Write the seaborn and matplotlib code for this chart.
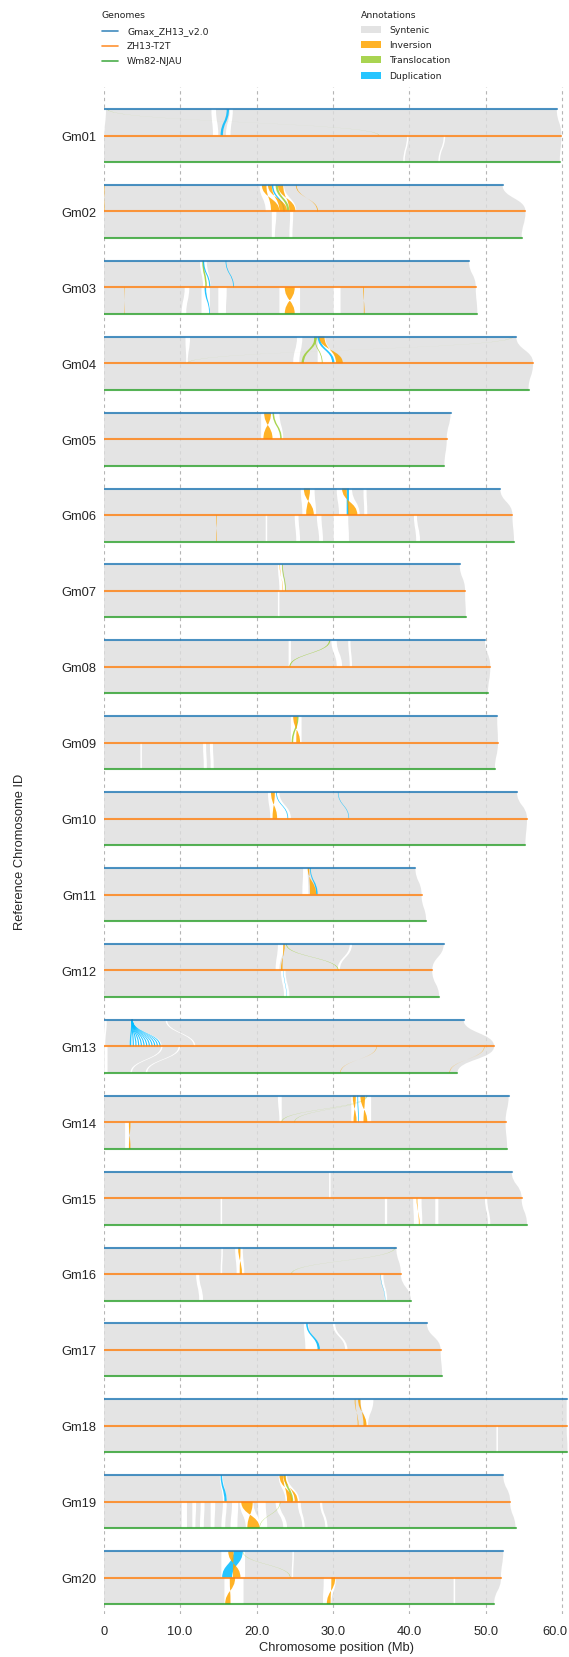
import numpy as np
import pandas as pd
import matplotlib
matplotlib.use("Agg")
import matplotlib.pyplot as plt
import matplotlib.transforms as mtransforms
import seaborn as sns
from matplotlib.path import Path
from matplotlib.patches import PathPatch, Rectangle
from matplotlib.lines import Line2D

# ---------------- data ----------------
CHROMS = ["Gm%02d" % i for i in range(1, 21)]
GENOMES = ["Gmax_ZH13_v2.0", "ZH13-T2T", "Wm82-NJAU"]
LEN_ZH13V2 = [59.3, 52.2, 47.8, 54.0, 45.4, 51.9, 46.6, 49.9, 51.5, 54.1,
              40.8, 44.5, 47.1, 53.0, 53.4, 38.3, 42.3, 60.6, 52.3, 52.3]
LEN_T2T = [59.9, 55.2, 48.7, 56.2, 44.9, 53.5, 47.3, 50.6, 51.6, 55.4,
           41.6, 43.0, 51.1, 52.6, 54.7, 38.9, 44.1, 60.6, 53.2, 52.0]
LEN_NJAU = [59.7, 54.7, 48.9, 55.6, 44.6, 53.7, 47.4, 50.3, 51.2, 55.2,
            42.2, 43.9, 46.3, 52.8, 55.4, 40.2, 44.3, 60.7, 53.9, 51.1]

ANNOT = ["Syntenic", "Inversion", "Translocation", "Duplication"]

# (chromosome, pair [0: ZH13_v2->T2T, 1: T2T->NJAU], upper start, upper end, lower start, lower end) in Mb
UNALIGNED = [
    ("Gm01", 0, 14.1, 14.7, 14.3, 15.0), ("Gm01", 0, 16.5, 16.9, 16.0, 16.6), ("Gm01", 0, 0.0, 0.3, 0.0, 0.1),
    ("Gm01", 1, 39.7, 39.9, 39.2, 39.4), ("Gm01", 1, 44.5, 44.7, 43.8, 44.0),
    ("Gm02", 0, 20.4, 23.6, 21.2, 25.2),
    ("Gm02", 1, 22.0, 22.6, 22.0, 22.4), ("Gm02", 1, 24.4, 24.8, 24.3, 24.7),
    ("Gm03", 0, 12.6, 13.5, 13.0, 14.0),
    ("Gm03", 1, 10.6, 11.2, 10.2, 10.8), ("Gm03", 1, 12.8, 13.9, 12.8, 13.9), ("Gm03", 1, 15.0, 16.1, 15.0, 16.0),
    ("Gm03", 1, 23.0, 25.7, 23.0, 25.7), ("Gm03", 1, 30.1, 31.0, 30.1, 31.0),
    ("Gm04", 0, 10.7, 11.3, 10.8, 11.0), ("Gm04", 0, 25.3, 26.0, 24.8, 25.6), ("Gm04", 0, 28.0, 29.0, 28.0, 30.5),
    ("Gm05", 0, 20.6, 23.0, 20.6, 23.5),
    ("Gm06", 0, 25.8, 27.6, 26.0, 27.8), ("Gm06", 0, 30.5, 32.5, 30.8, 33.5), ("Gm06", 0, 34.0, 34.4, 34.1, 34.5),
    ("Gm06", 1, 21.2, 21.4, 21.2, 21.4), ("Gm06", 1, 25.0, 25.5, 25.2, 25.7), ("Gm06", 1, 27.9, 28.5, 28.2, 28.7),
    ("Gm06", 1, 30.1, 32.0, 30.1, 32.1), ("Gm06", 1, 40.6, 41.0, 40.9, 41.4),
    ("Gm07", 0, 22.8, 23.3, 23.0, 23.7), ("Gm07", 1, 22.8, 23.0, 22.8, 23.0),
    ("Gm08", 0, 24.2, 24.5, 24.2, 24.5), ("Gm08", 0, 29.8, 30.5, 30.5, 31.2), ("Gm08", 0, 32.0, 32.3, 32.2, 32.5),
    ("Gm09", 0, 24.5, 25.9, 24.5, 25.9),
    ("Gm09", 1, 4.8, 5.0, 4.8, 5.0), ("Gm09", 1, 13.0, 13.4, 13.1, 13.5), ("Gm09", 1, 13.9, 14.3, 14.0, 14.4),
    ("Gm10", 0, 21.5, 23.0, 21.8, 24.5),
    ("Gm11", 0, 26.1, 26.7, 26.0, 26.8),
    ("Gm12", 0, 22.8, 23.6, 22.5, 23.0), ("Gm12", 0, 32.2, 32.5, 30.6, 30.9),
    ("Gm12", 1, 23.2, 23.8, 23.6, 24.3),
    ("Gm13", 0, 3.6, 3.8, 3.4, 7.6), ("Gm13", 0, 8.1, 8.3, 11.8, 12.0), ("Gm13", 0, 0.1, 0.4, 0.0, 0.2),
    ("Gm13", 1, 0.1, 0.5, 0.1, 0.5), ("Gm13", 1, 7.5, 7.7, 3.5, 3.7), ("Gm13", 1, 9.8, 10.0, 5.5, 5.7),
    ("Gm14", 0, 22.8, 23.3, 23.0, 23.3), ("Gm14", 0, 32.4, 35.0, 32.4, 35.0),
    ("Gm14", 1, 2.8, 3.3, 2.8, 3.3),
    ("Gm15", 0, 29.5, 29.7, 29.5, 29.7),
    ("Gm15", 1, 36.8, 37.1, 36.8, 37.1), ("Gm15", 1, 40.5, 41.6, 40.6, 41.7), ("Gm15", 1, 43.4, 43.8, 43.4, 43.8),
    ("Gm15", 1, 49.9, 50.2, 50.3, 50.6), ("Gm15", 1, 15.3, 15.5, 15.3, 15.5),
    ("Gm16", 0, 15.4, 15.6, 15.3, 15.5), ("Gm16", 0, 17.2, 18.2, 17.4, 18.4),
    ("Gm16", 1, 12.1, 12.5, 12.5, 13.0), ("Gm16", 1, 36.3, 36.6, 36.8, 37.1),
    ("Gm17", 0, 26.2, 26.8, 26.4, 28.0), ("Gm17", 0, 30.0, 30.3, 31.6, 31.9),
    ("Gm18", 0, 33.6, 35.3, 34.3, 34.6), ("Gm18", 1, 51.4, 51.6, 51.4, 51.6),
    ("Gm19", 0, 15.2, 15.6, 15.6, 16.1), ("Gm19", 0, 22.9, 24.0, 23.8, 25.6),
    ("Gm19", 1, 10.2, 10.9, 10.2, 10.9), ("Gm19", 1, 11.6, 12.1, 11.6, 12.0), ("Gm19", 1, 12.7, 13.2, 12.6, 13.1),
    ("Gm19", 1, 14.0, 14.6, 14.0, 14.5), ("Gm19", 1, 15.6, 16.1, 15.4, 15.9), ("Gm19", 1, 16.8, 17.6, 16.6, 17.5),
    ("Gm19", 1, 17.8, 19.6, 18.6, 20.5), ("Gm19", 1, 20.2, 21.2, 20.3, 21.4), ("Gm19", 1, 22.5, 23.0, 23.5, 24.0),
    ("Gm19", 1, 25.4, 25.8, 26.0, 26.3), ("Gm19", 1, 28.3, 28.6, 29.0, 29.3),
    ("Gm20", 0, 15.4, 18.5, 15.4, 18.5), ("Gm20", 0, 24.7, 24.9, 24.6, 24.8),
    ("Gm20", 1, 15.8, 18.3, 15.8, 18.3), ("Gm20", 1, 28.8, 30.4, 28.7, 29.8), ("Gm20", 1, 45.8, 46.0, 45.8, 46.0),
]

INVERSIONS = [
    ("Gm02", 0, 20.7, 21.3, 21.9, 23.0), ("Gm02", 0, 21.5, 22.0, 23.0, 24.0), ("Gm02", 0, 22.8, 23.5, 24.3, 25.1),
    ("Gm02", 0, 25.15, 25.25, 27.95, 28.05), ("Gm02", 0, 0.0, 0.1, 0.0, 0.1),
    ("Gm03", 1, 2.72, 2.78, 2.72, 2.78), ("Gm03", 1, 23.7, 25.0, 23.7, 25.0), ("Gm03", 1, 33.95, 34.05, 34.05, 34.15),
    ("Gm04", 0, 28.2, 28.9, 30.4, 31.3),
    ("Gm05", 0, 21.0, 21.9, 20.9, 22.1),
    ("Gm06", 0, 26.2, 27.0, 26.5, 27.5), ("Gm06", 0, 31.2, 31.8, 32.0, 33.2), ("Gm06", 1, 14.74, 14.82, 14.74, 14.82),
    ("Gm07", 0, 23.02, 23.08, 23.42, 23.48),
    ("Gm09", 0, 24.8, 25.3, 25.2, 25.7),
    ("Gm10", 0, 21.9, 22.4, 22.1, 22.7),
    ("Gm11", 0, 26.7, 26.9, 27.0, 27.8),
    ("Gm12", 0, 23.5, 23.7, 23.2, 23.4),
    ("Gm13", 1, 35.7, 35.75, 30.95, 31.0), ("Gm13", 1, 49.8, 49.85, 45.25, 45.3),
    ("Gm14", 0, 32.6, 33.0, 32.7, 33.1), ("Gm14", 0, 33.6, 34.2, 34.0, 34.5), ("Gm14", 1, 3.3, 3.5, 3.3, 3.5),
    ("Gm15", 1, 40.95, 41.05, 41.25, 41.35),
    ("Gm16", 0, 17.6, 17.9, 17.8, 18.1),
    ("Gm18", 0, 33.3, 33.6, 34.0, 34.4), ("Gm18", 0, 32.85, 32.95, 33.25, 33.35),
    ("Gm19", 0, 23.0, 23.5, 24.0, 24.7), ("Gm19", 0, 23.5, 23.8, 25.0, 25.4), ("Gm19", 1, 18.0, 19.5, 18.8, 20.4),
    ("Gm20", 0, 16.3, 17.0, 16.9, 17.9),
    ("Gm20", 1, 16.5, 17.2, 15.9, 16.6), ("Gm20", 1, 29.8, 30.3, 29.2, 29.7),
]

TRANSLOCATIONS = [
    ("Gm01", 0, 0.45, 0.5, 36.0, 36.05),
    ("Gm02", 0, 22.5, 22.8, 24.0, 24.3),
    ("Gm03", 0, 12.9, 13.1, 13.3, 13.5),
    ("Gm04", 0, 53.5, 53.55, 10.95, 11.0), ("Gm04", 0, 27.6, 27.9, 25.9, 26.2), ("Gm04", 0, 27.55, 27.65, 28.55, 28.65),
    ("Gm05", 0, 22.1, 22.3, 23.1, 23.3),
    ("Gm07", 0, 23.35, 23.45, 23.75, 23.85),
    ("Gm08", 0, 29.5, 29.65, 24.3, 24.45),
    ("Gm09", 0, 25.3, 25.5, 24.6, 24.8),
    ("Gm12", 0, 23.85, 23.95, 30.65, 30.75),
    ("Gm14", 0, 34.35, 34.42, 23.25, 23.32), ("Gm14", 0, 34.45, 34.5, 24.95, 25.0),
    ("Gm16", 0, 38.1, 38.15, 24.55, 24.6),
    ("Gm19", 0, 23.6, 23.8, 24.5, 24.8), ("Gm19", 1, 23.08, 23.13, 20.38, 20.43),
    ("Gm20", 0, 18.18, 18.23, 24.38, 24.43),
]

DUPLICATIONS = [
    ("Gm01", 0, 16.1, 16.4, 15.3, 15.6),
    ("Gm02", 0, 22.0, 22.2, 23.5, 23.7),
    ("Gm03", 0, 15.95, 16.05, 16.95, 17.05), ("Gm03", 0, 13.0, 13.15, 13.8, 13.95), ("Gm03", 1, 13.2, 13.4, 13.8, 13.9),
    ("Gm04", 0, 28.0, 28.3, 29.9, 30.2),
    ("Gm06", 0, 31.8, 32.1, 31.8, 32.1),
    ("Gm10", 0, 22.55, 22.65, 24.05, 24.15), ("Gm10", 0, 30.65, 30.72, 32.05, 32.12),
    ("Gm11", 0, 27.0, 27.1, 27.8, 28.0),
    ("Gm12", 1, 23.52, 23.56, 23.92, 23.96),
    ("Gm13", 0, 3.60, 3.75, 3.40, 3.60), ("Gm13", 0, 3.62, 3.76, 3.80, 3.95), ("Gm13", 0, 3.63, 3.77, 4.15, 4.30),
    ("Gm13", 0, 3.64, 3.78, 4.50, 4.65), ("Gm13", 0, 3.65, 3.79, 4.85, 5.00), ("Gm13", 0, 3.66, 3.80, 5.20, 5.35),
    ("Gm13", 0, 3.67, 3.80, 5.55, 5.70), ("Gm13", 0, 3.68, 3.80, 5.90, 6.05), ("Gm13", 0, 3.69, 3.80, 6.25, 6.40),
    ("Gm13", 0, 3.70, 3.80, 6.60, 6.75), ("Gm13", 0, 3.70, 3.80, 6.95, 7.10), ("Gm13", 0, 3.70, 3.80, 7.30, 7.45),
    ("Gm14", 0, 33.2, 33.3, 33.3, 33.4),
    ("Gm16", 1, 36.22, 36.26, 36.82, 36.86),
    ("Gm17", 0, 26.5, 26.7, 28.0, 28.3),
    ("Gm19", 0, 15.3, 15.5, 15.8, 16.1),
    ("Gm20", 0, 17.0, 18.2, 15.5, 16.8),
]

XTICKS = [0, 10, 20, 30, 40, 50, 60]
XTICK_LABELS = ["0", "10.0", "20.0", "30.0", "40.0", "50.0", "60.0"]

# ---------------- style ----------------
sns.set_theme(style="white")
plt.rcParams["font.family"] = ["Liberation Sans", "DejaVu Sans"]

GENOME_COLORS = ["#1f77b4", "#ff7f0e", "#2ca02c"]
ANNOT_COLORS = {"Syntenic": "#DEDEDE", "Inversion": "#FFA500",
                "Translocation": "#9ACD32", "Duplication": "#00BBFF"}

CHR_STEP = 75.9
GEN_STEP = 26.5

fig = plt.figure(figsize=(5.69, 16.58), dpi=100)
W, H = 569.0, 1658.0
ax = fig.add_axes([103.7 / W, 1 - 1615 / H, (W - 103.7) / W, (1615 - 88) / H])


def ypos(ci, gi):
    return ci * CHR_STEP + gi * GEN_STEP


def ribbon(a_s, a_e, b_s, b_e, y1, y2, color, inverted=False, alpha=1.0, z=2):
    ym = (y1 + y2) / 2
    if not inverted:
        verts = [(a_s, y1), (a_e, y1), (a_e, ym), (b_e, ym), (b_e, y2),
                 (b_s, y2), (b_s, ym), (a_s, ym), (a_s, y1), (a_s, y1)]
    else:
        verts = [(a_s, y1), (a_e, y1), (a_e, ym), (b_s, ym), (b_s, y2),
                 (b_e, y2), (b_e, ym), (a_s, ym), (a_s, y1), (a_s, y1)]
    codes = [Path.MOVETO, Path.LINETO, Path.CURVE4, Path.CURVE4, Path.CURVE4,
             Path.LINETO, Path.CURVE4, Path.CURVE4, Path.CURVE4, Path.CLOSEPOLY]
    ax.add_patch(PathPatch(Path(verts, codes), facecolor=color, edgecolor="none",
                           alpha=alpha, zorder=z, lw=0))


lengths = [LEN_ZH13V2, LEN_T2T, LEN_NJAU]

# syntenic background ribbons
for ci, c in enumerate(CHROMS):
    for p in range(2):
        ribbon(0, lengths[p][ci], 0, lengths[p + 1][ci], ypos(ci, p), ypos(ci, p + 1),
               ANNOT_COLORS["Syntenic"], alpha=0.8, z=1)

for (c, p, a_s, a_e, b_s, b_e) in UNALIGNED:
    ci = CHROMS.index(c)
    ribbon(a_s, a_e, b_s, b_e, ypos(ci, p), ypos(ci, p + 1), "white", z=2)

for rows, key, inv in [(TRANSLOCATIONS, "Translocation", False),
                       (DUPLICATIONS, "Duplication", False),
                       (INVERSIONS, "Inversion", True)]:
    for (c, p, a_s, a_e, b_s, b_e) in rows:
        ci = CHROMS.index(c)
        ribbon(a_s, a_e, b_s, b_e, ypos(ci, p), ypos(ci, p + 1),
               ANNOT_COLORS[key], inverted=inv, alpha=0.85, z=3)

# chromosome lines via seaborn
rows = []
for gi, g in enumerate(GENOMES):
    for ci, c in enumerate(CHROMS):
        rows.append({"x": 0.0, "y": ypos(ci, gi), "genome": g, "chrom": c})
        rows.append({"x": lengths[gi][ci], "y": ypos(ci, gi), "genome": g, "chrom": c})
df_lines = pd.DataFrame(rows)
sns.lineplot(data=df_lines, x="x", y="y", hue="genome", units="chrom", estimator=None,
             sort=False, palette=dict(zip(GENOMES, GENOME_COLORS)), legend=False,
             lw=1.5, alpha=0.8, ax=ax, zorder=4)

ax.set_xlim(0, 60.9)
ax.set_ylim(1505, -22)
ax.set_xticks(XTICKS)
ax.set_xticklabels(XTICK_LABELS, fontsize=9.3)
ax.set_yticks([ypos(ci, 1) for ci in range(len(CHROMS))])
ax.set_yticklabels(CHROMS, fontsize=9.3)
ax.tick_params(axis="both", length=0, pad=5)
ax.tick_params(axis="x", pad=8)
last = ax.get_xticklabels()[-1]
last.set_transform(last.get_transform() +
                   mtransforms.ScaledTranslation(-0.075, 0, fig.dpi_scale_trans))
for s in ax.spines.values():
    s.set_visible(False)
ax.grid(axis="x", linestyle=(0, (3, 3)), color="#b5b5b5", lw=0.8, zorder=0)
ax.grid(axis="y", visible=False)
ax.set_axisbelow(True)
ax.set_xlabel("Chromosome position (Mb)", fontsize=9.3, labelpad=3)
ax.set_ylabel("Reference Chromosome ID", fontsize=9.3, labelpad=26)

# legends (drawn in figure pixel coordinates)
LFONT = dict(family="DejaVu Sans", size=6.7, color="#222222", va="center", ha="left")


def fx(px):
    return px / W


def fy(py):
    return 1 - py / H


fig.text(fx(102), fy(16), "Genomes", **LFONT)
for i, (g, col) in enumerate(zip(GENOMES, GENOME_COLORS)):
    yy = 31.5 + 15.2 * i
    fig.add_artist(Line2D([fx(102), fx(118)], [fy(yy), fy(yy)], color=col, lw=1.2,
                          alpha=0.85, transform=fig.transFigure))
    fig.text(fx(127), fy(yy), g, **LFONT)

fig.text(fx(361), fy(15.5), "Annotations", **LFONT)
for i, k in enumerate(ANNOT):
    yy = 30.5 + 15.2 * i
    fig.add_artist(Rectangle((fx(361), fy(yy + 3.5)), fx(381) - fx(361), fy(yy - 3.5) - fy(yy + 3.5),
                             facecolor=ANNOT_COLORS[k], alpha=0.85, edgecolor="none",
                             transform=fig.transFigure))
    fig.text(fx(389), fy(yy), k, **LFONT)

fig.savefig("out.png", dpi=100)
